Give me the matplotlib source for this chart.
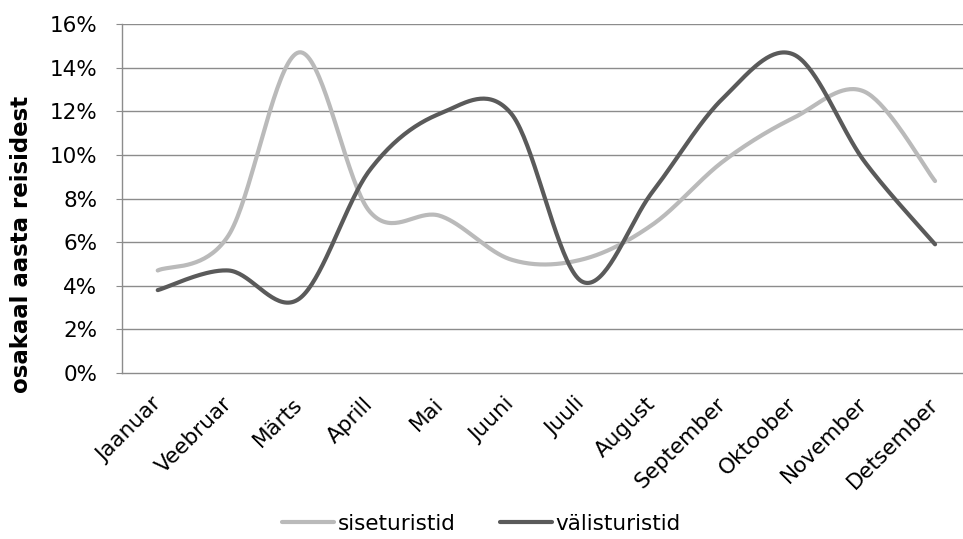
import numpy as np
import matplotlib
matplotlib.use("Agg")
import matplotlib.pyplot as plt
from matplotlib.ticker import FuncFormatter

months = ["Jaanuar", "Veebruar", "Märts", "Aprill", "Mai", "Juuni",
          "Juuli", "August", "September", "Oktoober", "November", "Detsember"]
siseturistid = [4.7, 6.3, 14.7, 7.4, 7.2, 5.2, 5.2, 6.8, 9.7, 11.7, 12.9, 8.8]
valisturistid = [3.8, 4.7, 3.4, 9.3, 11.9, 11.9, 4.2, 8.3, 12.6, 14.6, 9.7, 5.9]


def smooth(y, n=40):
    # Excel style smoothed line (Catmull-Rom as cubic Bezier)
    x = np.arange(len(y), dtype=float)
    y = np.asarray(y, dtype=float)
    px = np.concatenate([[x[0]], x, [x[-1]]])
    py = np.concatenate([[y[0]], y, [y[-1]]])
    t = np.linspace(0, 1, n)[:, None]
    xs, ys = [], []
    for i in range(len(y) - 1):
        p0 = np.array([px[i + 1], py[i + 1]])
        p3 = np.array([px[i + 2], py[i + 2]])
        p1 = p0 + (p3 - np.array([px[i], py[i]])) / 6
        p2 = p3 - (np.array([px[i + 3], py[i + 3]]) - p0) / 6
        pts = ((1 - t) ** 3) * p0 + 3 * ((1 - t) ** 2) * t * p1 \
            + 3 * (1 - t) * t ** 2 * p2 + t ** 3 * p3
        xs.extend(pts[:, 0])
        ys.extend(pts[:, 1])
    return np.array(xs), np.array(ys)


fig = plt.figure(figsize=(9.63, 5.39), dpi=100)
ax = fig.add_axes([122.4 / 963, 166 / 539, 848 / 963, 349 / 539])

for val in range(2, 17, 2):
    ax.axhline(val, color="#8c8c8c", lw=1.0, zorder=1)

sx, sy = smooth(siseturistid)
vx, vy = smooth(valisturistid)
ax.plot(sx, sy, color="#bababa", lw=3.0, solid_capstyle="round",
        label="siseturistid", zorder=3)
ax.plot(vx, vy, color="#5a5a5a", lw=3.0, solid_capstyle="round",
        label="välisturistid", zorder=4)

ax.set_xlim(-0.5, 11.5)
ax.set_ylim(0, 16)
ax.set_yticks(range(0, 17, 2))
ax.yaxis.set_major_formatter(FuncFormatter(lambda v, p: f"{int(v)}%"))
ax.set_xticks(range(len(months)))
ax.set_xticklabels(months, rotation=45, ha="right", va="center",
                   rotation_mode="anchor")

for s in ["top", "right"]:
    ax.spines[s].set_visible(False)
for s in ["left", "bottom"]:
    ax.spines[s].set_color("#8c8c8c")
    ax.spines[s].set_linewidth(1.0)

ax.tick_params(axis="y", length=4, color="#8c8c8c", labelsize=15.5, pad=14)
ax.tick_params(axis="x", length=0, labelsize=15.5, pad=20)

ax.set_ylabel("osakaal aasta reisidest", fontsize=16.5, fontweight="bold")
ax.yaxis.set_label_coords(-0.106, 0.367)

fig.legend(loc="lower center", bbox_to_anchor=(0.5, -0.026), ncol=2,
           frameon=False, fontsize=15.5, handlelength=2.4,
           handletextpad=0.15, columnspacing=2.1)

fig.savefig("out.png", dpi=100)
